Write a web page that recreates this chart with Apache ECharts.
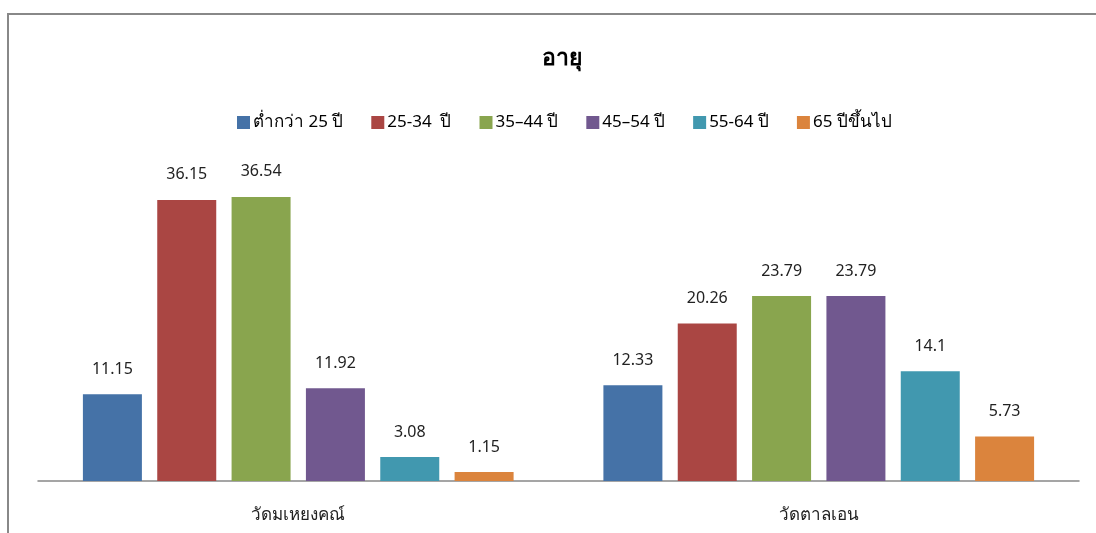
<!DOCTYPE html>
<html>
<head>
<meta charset="utf-8">
<script src="https://cdn.jsdelivr.net/npm/echarts@6/dist/echarts.min.js"></script>
<style>
  html, body { margin: 0; padding: 0; background: #fff; }
  #chart { width: 1096px; height: 533px; }
</style>
</head>
<body>
<div id="chart"></div>
<script>
const categories = ['วัดมเหยงคณ์', 'วัดตาลเอน'];
const seriesNames = ['ต่ำกว่า 25 ปี', '25-34  ปี', '35–44 ปี', '45–54 ปี', '55-64 ปี', '65 ปีขึ้นไป'];
const under25 = [11.15, 12.33];
const age25to34 = [36.15, 20.26];
const age35to44 = [36.54, 23.79];
const age45to54 = [11.92, 23.79];
const age55to64 = [3.08, 14.1];
const age65up = [1.15, 5.73];

const colors = ['#4572A7', '#AA4643', '#89A54E', '#71588F', '#4198AF', '#DB843D'];
const fontFamily = "Tahoma, 'Noto Sans', sans-serif";
const allValues = [under25, age25to34, age35to44, age45to54, age55to64, age65up];

const chart = echarts.init(document.getElementById('chart'));

chart.setOption({
  animation: false,
  color: colors,
  textStyle: { fontFamily: fontFamily },
  graphic: [{
    type: 'polyline',
    shape: { points: [[8, 540], [8, 14], [1100, 14]] },
    style: { stroke: '#888', lineWidth: 2, fill: null }
  }],
  title: {
    text: 'อายุ',
    left: 537,
    top: 42,
    textStyle: { fontSize: 23, fontWeight: 'bold', color: '#000', fontFamily: fontFamily }
  },
  legend: {
    top: 109,
    left: 232,
    itemWidth: 13,
    itemHeight: 13,
    itemGap: 28,
    icon: 'rect',
    textStyle: { fontSize: 17, color: '#000', fontFamily: fontFamily, padding: [0, 0, 0, -2] },
    data: seriesNames
  },
  grid: { left: 38, right: 17, top: 170, bottom: 52 },
  xAxis: {
    type: 'category',
    data: categories,
    axisLine: { lineStyle: { color: '#888', width: 1.5 } },
    axisTick: { show: false },
    axisLabel: { fontSize: 17, color: '#222', margin: 26, fontFamily: fontFamily }
  },
  yAxis: {
    type: 'value',
    min: 0,
    max: 40,
    show: false,
    splitLine: { show: false }
  },
  series: seriesNames.map((name, i) => ({
    name: name,
    type: 'bar',
    data: allValues[i],
    barWidth: 59,
    barGap: '26%',
    label: {
      show: true,
      position: 'top',
      distance: 17,
      fontSize: 16,
      color: '#222',
      fontFamily: fontFamily
    }
  }))
});
</script>
</body>
</html>
